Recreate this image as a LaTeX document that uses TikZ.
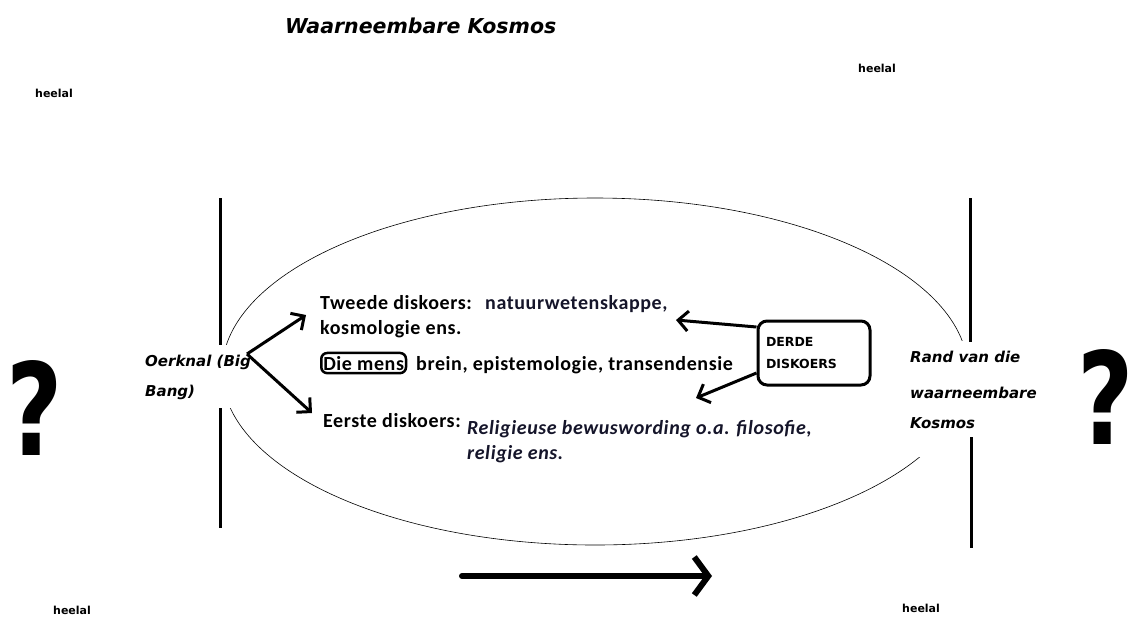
\documentclass[tikz,border=0pt]{standalone}
\usepackage{fontspec}
\usepackage{graphicx}
\setmainfont{Carlito}[LetterSpace=3]
\newfontfamily\dvs{DejaVu Sans}
\usetikzlibrary{arrows.meta}
\definecolor{inknavy}{HTML}{15152A}

\begin{document}
\begin{tikzpicture}[
  x=1pt, y=-1pt,
  txt/.style={anchor=base west, inner sep=0pt, font=\fontsize{20}{22}\selectfont\bfseries},
  blue/.style={txt, text=inknavy},
  bigit/.style={anchor=base west, inner sep=0pt, font=\dvs\fontsize{15}{17}\selectfont\bfseries\itshape},
  heelal/.style={anchor=base west, inner sep=0pt, font=\dvs\fontsize{11}{12}\selectfont\bfseries},
  query/.style={inner sep=0pt, font=\dvs\fontsize{128}{130}\selectfont\bfseries},
  arrow/.style={-{Straight Barb[length=10pt, width=20pt]}, line width=3pt},
  bar/.style={line width=3pt}
]
\useasboundingbox (0,0) rectangle (1134,619);

% title and the outer universe
\node[anchor=base west, inner sep=0pt, font=\dvs\fontsize{20.5}{22}\selectfont\bfseries\itshape] (title) at (285,33) {Waarneembare Kosmos};
\node[heelal] (h1) at (35,97) {heelal};
\node[heelal] (h2) at (858,72) {heelal};
\node[heelal] (h3) at (53,614) {heelal};
\node[heelal] (h4) at (902,612) {heelal};
\node[query] (q1) at (35,408) {\scalebox{0.76}[1]{?}};
\node[query] (q2) at (1106,397) {\scalebox{0.76}[1]{?}};

% observable cosmos
\draw[line width=0.6pt] (595,371.5) ellipse [x radius=373pt, y radius=173.5pt];
\fill[white] (140,345) rectangle (258,408);
\fill[white] (905,341) rectangle (1045,457);
\coordinate (lt) at (220,198);
\coordinate (lm) at (220,345);
\coordinate (ln) at (220,408);
\coordinate (lb) at (220,528);
\coordinate (rt) at (970,198);
\coordinate (rm) at (970,342);
\coordinate (rn) at (971,437);
\coordinate (rb) at (971,548);
\draw[bar] (lt) -- (lm);
\draw[bar] (ln) -- (lb);
\draw[bar] (rt) -- (rm);
\draw[bar] (rn) -- (rb);

\node[bigit] (bang) at (145,366) {Oerknal (Big};
\node[bigit] (bang2) at (145,396) {Bang)};
\node[bigit] (rand) at (910,362) {Rand van die};
\node[bigit] (rand2) at (910,398) {waarneembare};
\node[bigit] (rand3) at (910,428) {Kosmos};

% discourses
\node[txt] (tweede) at (320,309) {Tweede diskoers:};
\node[blue] (natuur) at (485,309) {natuurwetenskappe,};
\node[txt] (kosmo) at (320,334) {kosmologie ens.};
\node[txt, draw, line width=2.5pt, rounded corners=6pt, inner xsep=2pt, inner ysep=3pt] (mens) at (320,370) {Die mens};
\node[txt] (brein) at (416,370) {brein, epistemologie, transendensie};
\node[txt] (eerste) at (323,427) {Eerste diskoers:};
\node[blue, font=\fontsize{20}{22}\selectfont\bfseries\itshape] (relig) at (467,434) {Religieuse bewuswording o.a. filosofie,};
\node[blue, font=\fontsize{20}{22}\selectfont\bfseries\itshape] (relig2) at (467,459) {religie ens.};

\node[draw, line width=3pt, rounded corners=9pt, minimum width=112pt, minimum height=64pt,
  align=left, text width=96pt, font=\dvs\fontsize{12.5}{22}\selectfont\bfseries] (derde) at (814,353) {DERDE\\DISKOERS};

\coordinate (bb) at (247,354);
\coordinate (up) at (306,315);
\coordinate (down) at (312,413);
\coordinate (d1) at (676,320);
\coordinate (d2) at (696,398);
\draw[arrow] (bb) -- (up);
\draw[arrow] (bb) -- (down);
\draw[arrow] ([yshift=26pt]derde.west) -- (d1);
\draw[arrow] ([yshift=-20pt]derde.west) -- (d2);

% time direction
\coordinate (t0) at (462,576);
\coordinate (t1) at (712,576);
\draw[-{Straight Barb[length=14pt, width=38pt]}, line width=6pt, line cap=round] (t0) -- (t1);

\end{tikzpicture}
\end{document}
